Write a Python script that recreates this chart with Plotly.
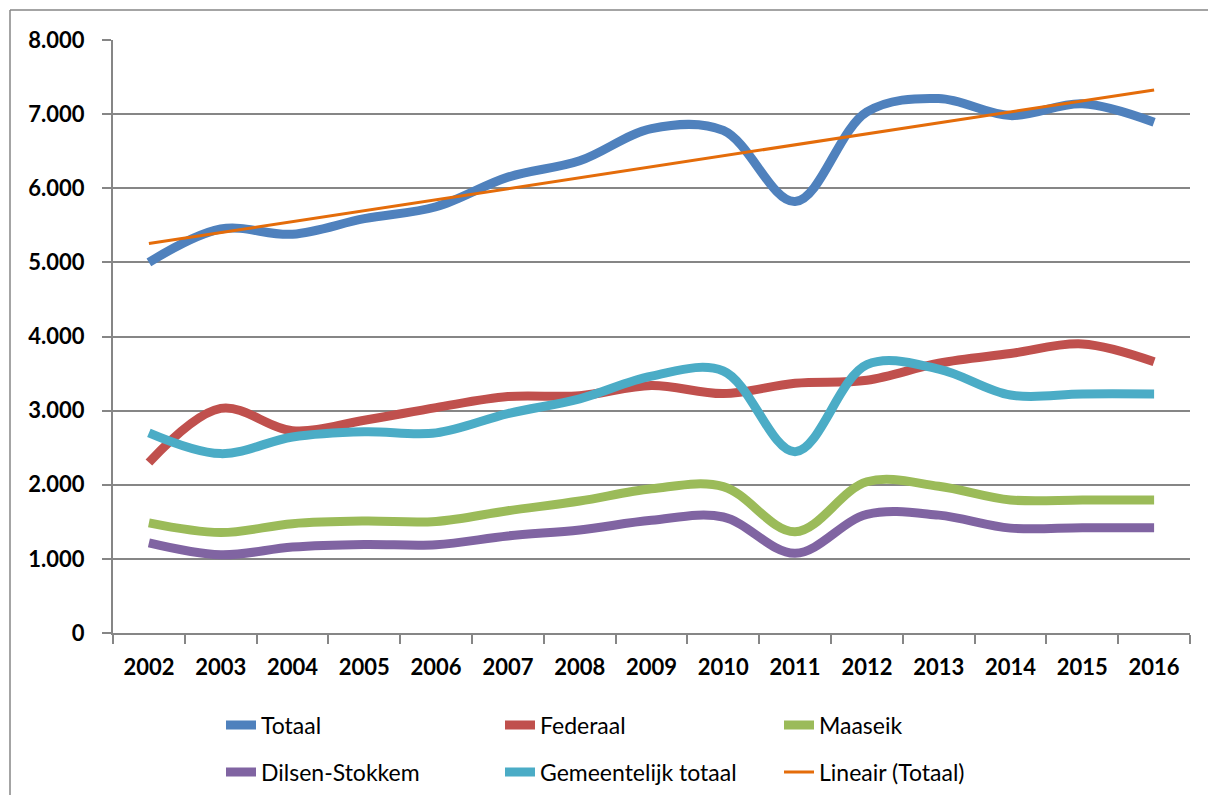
import numpy as np
import plotly.graph_objects as go

years = ["2002", "2003", "2004", "2005", "2006", "2007", "2008", "2009",
         "2010", "2011", "2012", "2013", "2014", "2015", "2016"]

totaal = [5000, 5450, 5380, 5590, 5750, 6150, 6370, 6805, 6780, 5820, 7030, 7210, 6980, 7140, 6890]
federaal = [2300, 3030, 2730, 2870, 3040, 3190, 3200, 3340, 3230, 3370, 3410, 3640, 3770, 3900, 3660]
maaseik = [1485, 1355, 1475, 1510, 1505, 1650, 1780, 1945, 1975, 1365, 2040, 1980, 1795, 1795, 1795]
dilsen = [1215, 1055, 1160, 1195, 1190, 1310, 1390, 1520, 1565, 1075, 1600, 1590, 1415, 1420, 1420]
gemeentelijk = [2700, 2420, 2645, 2715, 2700, 2960, 3160, 3465, 3535, 2445, 3620, 3560, 3210, 3225, 3225]

y_ticks = [0, 1000, 2000, 3000, 4000, 5000, 6000, 7000, 8000]
y_labels = ["0", "1.000", "2.000", "3.000", "4.000", "5.000", "6.000", "7.000", "8.000"]

# Linear trendline (least squares on Totaal)
xi = np.arange(len(totaal))
slope, intercept = np.polyfit(xi, totaal, 1)
trend = list(slope * xi + intercept)

C_TOT = "#4F81BD"
C_FED = "#C0504D"
C_MAA = "#9BBB59"
C_DIL = "#8064A2"
C_GEM = "#4BACC6"
C_LIN = "#E46C0A"
GRAY = "#868686"
FONT = "Lato, Open Sans, sans-serif"

# figure geometry (page has an 8px body margin)
W, H = 1200, 787
ML, MT, MR, MB = 105, 32, 18, 162
PW = W - ML - MR
PH = H - MT - MB


def px_to_paper_x(px):
    return (px - ML) / PW


def px_to_paper_y(py):
    return (H - MB - py) / PH


fig = go.Figure()


def add_line(y, name, color, width, legend, smooth=True):
    fig.add_trace(go.Scatter(
        x=years, y=y, name=name, mode="lines",
        line=dict(color=color, width=width,
                  shape="spline" if smooth else "linear", smoothing=1.0),
        legend=legend,
    ))


add_line(totaal, "Totaal", C_TOT, 9, "legend")
add_line(federaal, "Federaal", C_FED, 9, "legend")
add_line(maaseik, "Maaseik", C_MAA, 9, "legend")
add_line(dilsen, "Dilsen-Stokkem", C_DIL, 9, "legend2")
add_line(gemeentelijk, "Gemeentelijk totaal", C_GEM, 9, "legend2")
add_line(trend, "Lineair (Totaal)", C_LIN, 3, "legend2", smooth=False)

legend_common = dict(
    orientation="h",
    font=dict(family=FONT, size=23, color="#000000"),
    bgcolor="rgba(0,0,0,0)",
    borderwidth=0,
    entrywidth=234,
    entrywidthmode="pixels",
    xanchor="left",
    yanchor="middle",
    itemwidth=30,
    traceorder="normal",
)

fig.update_layout(
    width=W, height=H,
    margin=dict(l=ML, r=MR, t=MT, b=MB, autoexpand=False),
    paper_bgcolor="white",
    plot_bgcolor="white",
    separators=",.",
    showlegend=True,
    legend=dict(legend_common, x=px_to_paper_x(213), y=px_to_paper_y(717)),
    legend2=dict(legend_common, x=px_to_paper_x(213), y=px_to_paper_y(764)),
    xaxis=dict(
        type="category",
        range=[-0.5, 14.5],
        showgrid=False,
        showline=True, linecolor=GRAY, linewidth=2,
        ticks="outside", tickson="boundaries", ticklen=9, tickcolor=GRAY, tickwidth=2,
        tickfont=dict(family=FONT, size=22, color="#000000", weight="bold"),
        ticklabelstandoff=14,
        fixedrange=True,
    ),
    yaxis=dict(
        range=[0, 8000],
        tickvals=y_ticks, ticktext=y_labels,
        showgrid=True, gridcolor=GRAY, gridwidth=1.5,
        showline=True, linecolor=GRAY, linewidth=2,
        ticks="outside", ticklen=9, tickcolor=GRAY, tickwidth=2,
        tickfont=dict(family=FONT, size=22, color="#000000", weight="bold"),
        ticklabelstandoff=13,
        zeroline=False,
        fixedrange=True,
    ),
    shapes=[
        dict(type="line", xref="paper", yref="paper",
             x0=px_to_paper_x(2), x1=px_to_paper_x(W),
             y0=px_to_paper_y(2), y1=px_to_paper_y(2),
             line=dict(color=GRAY, width=1.5)),
        dict(type="line", xref="paper", yref="paper",
             x0=px_to_paper_x(2), x1=px_to_paper_x(2),
             y0=px_to_paper_y(2), y1=px_to_paper_y(H),
             line=dict(color=GRAY, width=1.5)),
    ],
)

fig.write_html("out.html")
